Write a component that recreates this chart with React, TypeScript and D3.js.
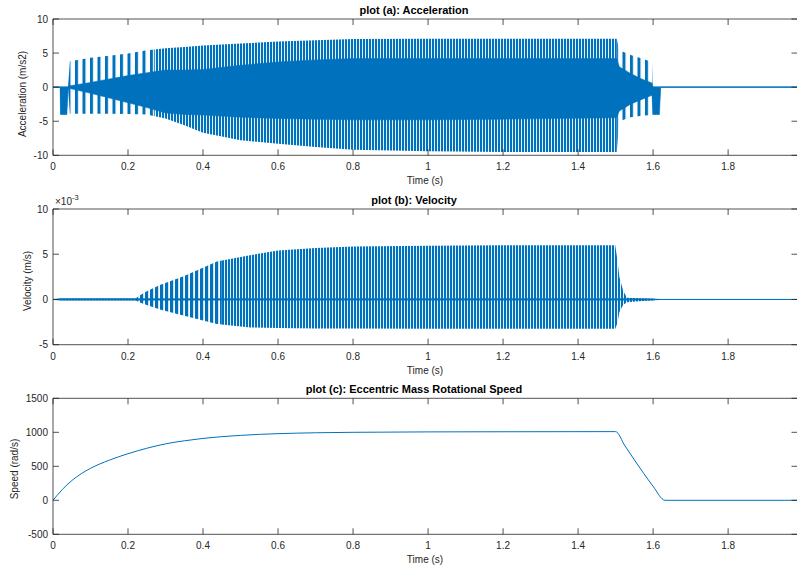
import React from 'react';
import * as d3 from 'd3';

const BLUE = '#0072BD';
const INK = '#262626';
const FONT = '"Liberation Sans", Arial, Helvetica, sans-serif';

const W = 797;
const H = 570;
const LEFT = 53;
const RIGHT = 797.5;

const xMax = 1.985;
const xTicks = [0, 0.2, 0.4, 0.6, 0.8, 1, 1.2, 1.4, 1.6, 1.8];

// plot (a): envelope of the acceleration trace
const accTime = [0, 0.019, 0.02, 0.037, 0.04, 0.045, 0.1, 0.15, 0.2, 0.25, 0.3, 0.35, 0.4, 0.5, 0.6, 0.7, 0.8, 1.0, 1.2, 1.5, 1.503, 1.51, 1.54, 1.57, 1.597, 1.6, 1.617, 1.62, 1.985];
const accUpper = [0, 0, 0, 0, 0, 3.8, 4.3, 4.6, 4.95, 5.4, 5.7, 5.9, 6.1, 6.4, 6.7, 6.9, 7.05, 7.1, 7.1, 7.1, 7.1, 5.4, 4.7, 4.2, 3.7, 0, 0, 0, 0];
const accLower = [0, 0, -4, -4, 0, -3.9, -3.9, -3.9, -3.95, -4.0, -4.6, -5.6, -6.7, -7.8, -8.3, -8.8, -9.2, -9.4, -9.5, -9.5, -9.5, -5.0, -4.4, -4.2, -4.1, -4, -4, 0, 0];
const accCoreUpper = [0, 0, 0, 0, 0, 0.2, 0.7, 1.2, 1.7, 2.1, 2.5, 2.5, 2.6, 3.2, 3.7, 4.0, 4.2, 4.2, 4.2, 4.2, 4.2, 3.0, 2.0, 1.2, 0.6, 0, 0, 0, 0];
const accCoreLower = [0, 0, -4, -4, 0, -0.2, -0.9, -1.6, -2.3, -3.0, -3.8, -4.0, -4.1, -4.4, -4.6, -4.7, -4.8, -4.8, -4.7, -4.5, -4.4, -3.5, -2.5, -1.8, -1.2, -4, -4, 0, 0];
const accSparse = [[0.04, 0.27], [1.503, 1.6]];
const accDense = [[0, 0.04], [0.27, 1.503], [1.6, 1.985]];
const accTicks = [-10, -5, 0, 5, 10];

// plot (b): envelope of the velocity trace (x 10^-3 m/s)
const velTime = [0, 0.02, 0.22, 0.23, 0.25, 0.285, 0.35, 0.437, 0.525, 0.6, 0.7, 0.8, 1.0, 1.2, 1.499, 1.505, 1.51, 1.52, 1.53, 1.6, 1.62, 1.985];
const velUpper = [0, 0.1, 0.1, 0.4, 0.9, 1.6, 2.6, 4.2, 4.9, 5.4, 5.7, 5.85, 5.95, 6.0, 6.0, 4.3, 2.5, 1.0, 0.2, 0.08, 0, 0];
const velLower = [0, -0.1, -0.1, -0.3, -0.6, -1.1, -1.8, -2.7, -3.1, -3.15, -3.2, -3.2, -3.25, -3.25, -3.25, -2.6, -1.4, -0.6, -0.3, -0.08, 0, 0];
const velSparse = [[0.22, 0.45]];
const velDense = [[0, 0.22], [0.45, 1.985]];
const velTicks = [-5, 0, 5, 10];

// plot (c): eccentric mass rotational speed (rad/s)
const speedTime = [0, 0.025, 0.05, 0.075, 0.1, 0.15, 0.2, 0.25, 0.3, 0.35, 0.4, 0.5, 0.6, 0.7, 0.8, 1.0, 1.2, 1.5, 1.525, 1.55, 1.575, 1.6, 1.632, 1.985];
const speedValue = [0, 160, 290, 390, 470, 590, 685, 765, 830, 875, 910, 955, 980, 993, 1000, 1006, 1008, 1010, 800, 595, 395, 205, 0, 0];
const speedTicks = [-500, 0, 500, 1000, 1500];

const x = d3.scaleLinear().domain([0, xMax]).range([LEFT, RIGHT]);

function Axes({ top, bottom, y, yTicks, title, ylabel, labelX, labelY, exponent, children }) {
  const tl = 6;
  return (
    <g>
      {children}
      <g stroke={INK} strokeWidth={0.8} fill="none">
        <line x1={LEFT} x2={RIGHT} y1={top} y2={top} />
        <line x1={LEFT} x2={RIGHT} y1={bottom} y2={bottom} />
        <line x1={LEFT} x2={LEFT} y1={top} y2={bottom} />
        <line x1={RIGHT} x2={RIGHT} y1={top} y2={bottom} />
        {xTicks.map(t => (
          <g key={'x' + t}>
            <line x1={x(t)} x2={x(t)} y1={bottom} y2={bottom - tl} />
            <line x1={x(t)} x2={x(t)} y1={top} y2={top + tl} />
          </g>
        ))}
        {yTicks.map(t => (
          <g key={'y' + t}>
            <line x1={LEFT} x2={LEFT + tl} y1={y(t)} y2={y(t)} />
            <line x1={RIGHT} x2={RIGHT - tl} y1={y(t)} y2={y(t)} />
          </g>
        ))}
      </g>
      <g fill={INK} fontSize={10} fontFamily={FONT}>
        {xTicks.map(t => (
          <text key={'xl' + t} x={x(t)} y={bottom + 15} textAnchor="middle">{String(t)}</text>
        ))}
        {yTicks.map(t => (
          <text key={'yl' + t} x={LEFT - 5} y={y(t) + 3.5} textAnchor="end">{String(t)}</text>
        ))}
        <text x={425} y={bottom + 29} textAnchor="middle">Time (s)</text>
        <text transform={`translate(${labelX},${labelY}) rotate(-90)`} textAnchor="middle">{ylabel}</text>
        {exponent && (
          <text x={LEFT + 2} y={top - 4}>
            {'\u00d710'}
            <tspan fontSize={7.5} dy={-5}>{exponent}</tspan>
          </text>
        )}
      </g>
      <text x={414} y={top - 5} textAnchor="middle" fontFamily={FONT} fontSize={11} fontWeight="bold" fill="#000">{title}</text>
    </g>
  );
}

function clipRects(ranges, top, bottom) {
  return ranges.map((r, i) => (
    <rect key={i} x={x(r[0])} y={top} width={x(r[1]) - x(r[0])} height={bottom - top} />
  ));
}

export default function App() {
  // plot (a)
  const aTop = 19, aBottom = 155.3;
  const yA = d3.scaleLinear().domain([-10, 10]).range([aBottom, aTop]);
  const accIdx = d3.range(accTime.length);
  const accOuter = d3.area().x(i => x(accTime[i])).y0(i => yA(accLower[i])).y1(i => yA(accUpper[i]))(accIdx);
  const accCore = d3.area().x(i => x(accTime[i])).y0(i => yA(accCoreLower[i])).y1(i => yA(accCoreUpper[i]))(accIdx);

  // plot (b)
  const bTop = 209, bBottom = 344.7;
  const yB = d3.scaleLinear().domain([-5, 10]).range([bBottom, bTop]);
  const velIdx = d3.range(velTime.length);
  const velArea = d3.area().x(i => x(velTime[i])).y0(i => yB(velLower[i])).y1(i => yB(velUpper[i]))(velIdx);
  const velCore = d3.area().x(i => x(velTime[i])).y0(i => yB(Math.max(velLower[i], -0.1))).y1(i => yB(Math.min(velUpper[i], 0.1)))(velIdx);

  // plot (c)
  const cTop = 398.3, cBottom = 534.3;
  const yC = d3.scaleLinear().domain([-500, 1500]).range([cBottom, cTop]);
  const speedPath = d3.line().x(i => x(speedTime[i])).y(i => yC(speedValue[i])).curve(d3.curveMonotoneX)(d3.range(speedTime.length));

  return (
    <svg width={W} height={H} style={{ position: 'absolute', left: 0, top: 0, background: '#fff' }}>
      <defs>
        <pattern id="dense" patternUnits="userSpaceOnUse" width={3} height={20}>
          <rect width={2.1} height={20} fill={BLUE} />
        </pattern>
        <pattern id="medium" patternUnits="userSpaceOnUse" width={5} height={20}>
          <rect width={3.2} height={20} fill={BLUE} />
        </pattern>
        <pattern id="sparse" patternUnits="userSpaceOnUse" width={7.5} height={20}>
          <rect width={3} height={20} fill={BLUE} />
        </pattern>
        <clipPath id="accSparseClip">{clipRects(accSparse, aTop, aBottom)}</clipPath>
        <clipPath id="accDenseClip">{clipRects(accDense, aTop, aBottom)}</clipPath>
        <clipPath id="velSparseClip">{clipRects(velSparse, bTop, bBottom)}</clipPath>
        <clipPath id="velDenseClip">{clipRects(velDense, bTop, bBottom)}</clipPath>
      </defs>
      <rect width={W} height={H} fill="#fff" />

      <Axes top={aTop} bottom={aBottom} y={yA} yTicks={accTicks} title="plot (a): Acceleration"
        ylabel="Acceleration (m/s2)" labelX={26} labelY={94}>
        <path d={accOuter} fill="url(#sparse)" clipPath="url(#accSparseClip)" />
        <path d={accOuter} fill="url(#dense)" clipPath="url(#accDenseClip)" />
        <path d={accCore} fill={BLUE} stroke={BLUE} strokeWidth={0.5} />
        <line x1={LEFT} x2={RIGHT} y1={yA(0)} y2={yA(0)} stroke={BLUE} strokeWidth={1.2} />
      </Axes>

      <Axes top={bTop} bottom={bBottom} y={yB} yTicks={velTicks} title="plot (b): Velocity"
        ylabel="Velocity (m/s)" labelX={31} labelY={281} exponent="-3">
        <path d={velArea} fill="url(#medium)" clipPath="url(#velSparseClip)" />
        <path d={velArea} fill="url(#dense)" clipPath="url(#velDenseClip)" />
        <path d={velCore} fill={BLUE} stroke={BLUE} strokeWidth={0.4} />
        <line x1={LEFT} x2={RIGHT} y1={yB(0)} y2={yB(0)} stroke={BLUE} strokeWidth={1} />
      </Axes>

      <Axes top={cTop} bottom={cBottom} y={yC} yTicks={speedTicks} title="plot (c): Eccentric Mass Rotational Speed"
        ylabel="Speed (rad/s)" labelX={18} labelY={469}>
        <path d={speedPath} fill="none" stroke={BLUE} strokeWidth={1} />
      </Axes>
    </svg>
  );
}
